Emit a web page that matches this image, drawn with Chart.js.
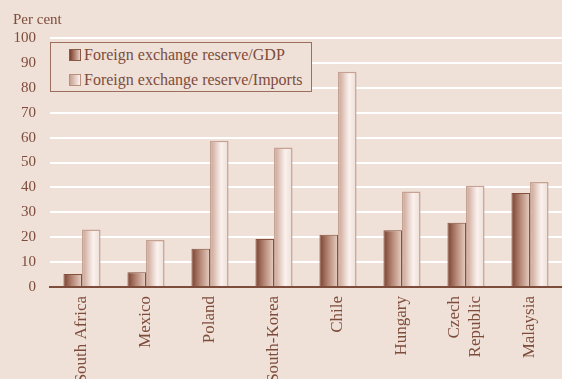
<!DOCTYPE html>
<html>
<head>
<meta charset="utf-8">
<script src="https://cdn.jsdelivr.net/npm/chart.js@4"></script>
<style>
  body { margin: 0; background: #efe0d8; }
  #wrap { position: relative; width: 562px; height: 379px; overflow: hidden; background: #efe0d8; }
  #unit { position: absolute; left: 13px; top: 11px; font: 15px "Liberation Serif", serif; color: #7d4c3b; }
  #legend { position: absolute; left: 50px; top: 42px; width: 260px; height: 48px; border: 1px solid #9c6e5e; background: #efe0d8; font: 16px "Liberation Serif", serif; color: #7d4c3b; }
  .row { position: absolute; left: 18px; height: 20px; line-height: 20px; white-space: nowrap; }
  .sw { display: inline-block; width: 10px; height: 10px; margin-right: 3px; vertical-align: -1px; border: 1px solid #8a5a48; }
</style>
</head>
<body>
<div id="wrap">
  <canvas id="grafico" width="562" height="379"></canvas>
  <div id="unit">Per cent</div>
  <div id="legend">
    <div class="row" style="top:2px"><span class="sw" style="background:linear-gradient(to right,#7a4030,#b38472,#e6d0c6)"></span>Foreign exchange reserve/GDP</div>
    <div class="row" style="top:27px"><span class="sw" style="background:linear-gradient(to right,#c8a090,#fbf2ee);border-color:#b89080"></span>Foreign exchange reserve/Imports</div>
  </div>
</div>
<script>
const paises = ['South Africa', 'Mexico', 'Poland', 'South-Korea', 'Chile', 'Hungary', ['Czech', 'Republic'], 'Malaysia'];
const reservaPib = [5.2, 5.9, 15.4, 19.3, 21.0, 22.8, 25.8, 37.8];
const reservaImport = [23.1, 18.9, 58.7, 56.0, 86.4, 38.4, 40.7, 42.2];

const marrom = '#7d4c3b';
const degrades = [
    [[0, '#7a4030'], [0.45, '#b38472'], [1, '#e6d0c6']],
    [[0, '#c8a090'], [0.6, '#fbf2ee'], [1, '#eddcd4']]
];

// gradiente horizontal em cada barra
const sombreado = {
    id: 'sombreado',
    beforeDatasetsDraw(chart) {
        const ctx = chart.ctx;
        chart.data.datasets.forEach((ds, i) => {
            chart.getDatasetMeta(i).data.forEach(bar => {
                const g = ctx.createLinearGradient(bar.x - bar.width / 2, 0, bar.x + bar.width / 2, 0);
                degrades[i].forEach(s => g.addColorStop(s[0], s[1]));
                bar.options.backgroundColor = g;
            });
        });
    }
};

// centraliza rótulos de duas linhas (Czech Republic)
const centraRotulos = {
    id: 'centraRotulos',
    beforeDraw(chart) {
        const items = chart.scales.x.getLabelItems();
        items.forEach(it => {
            if (Array.isArray(it.label)) {
                it.options.translation[0] -= 11;
            }
        });
    }
};

const ctx = document.getElementById('grafico').getContext('2d');
const chart = new Chart(ctx, {
    type: 'bar',
    data: {
        labels: paises,
        datasets: [{
            label: 'Foreign exchange reserve/GDP',
            data: reservaPib,
            backgroundColor: () => '#b38472',
            borderColor: '#85503e',
            borderWidth: 1
        }, {
            label: 'Foreign exchange reserve/Imports',
            data: reservaImport,
            backgroundColor: () => '#fbf2ee',
            borderColor: '#c6a293',
            borderWidth: 1.5
        }]
    },
    options: {
        responsive: false,
        animation: false,
        categoryPercentage: 0.58,
        barPercentage: 1,
        layout: { padding: { top: 38, left: 0, right: 0, bottom: 0 } },
        scales: {
            x: {
                grid: { display: false },
                border: { color: marrom, width: 2 },
                afterFit: s => { s.height = 92; },
                ticks: {
                    autoSkip: false,
                    minRotation: 90,
                    maxRotation: 90,
                    padding: 1,
                    color: marrom,
                    font: { family: 'Liberation Serif', size: 17 }
                }
            },
            y: {
                min: 0,
                max: 100,
                afterFit: s => { s.width = 50; },
                border: { display: false },
                grid: {
                    drawTicks: false,
                    lineWidth: 2,
                    color: c => c.tick && c.tick.value === 0 ? marrom : '#ffffff'
                },
                ticks: {
                    stepSize: 10,
                    padding: 14,
                    color: marrom,
                    font: { family: 'Liberation Serif', size: 15 }
                }
            }
        },
        plugins: {
            legend: { display: false },
            tooltip: { enabled: false }
        }
    },
    plugins: [sombreado, centraRotulos]
});
</script>
</body>
</html>
